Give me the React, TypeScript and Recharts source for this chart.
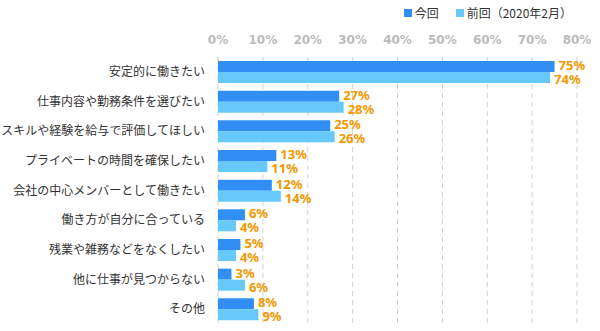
import { BarChart, Bar, XAxis, YAxis, CartesianGrid, LabelList, Legend } from "recharts"

const categories = [
  "安定的に働きたい",
  "仕事内容や勤務条件を選びたい",
  "スキルや経験を給与で評価してほしい",
  "プライベートの時間を確保したい",
  "会社の中心メンバーとして働きたい",
  "働き方が自分に合っている",
  "残業や雑務などをなくしたい",
  "他に仕事が見つからない",
  "その他",
]
const current = [75, 27, 25, 13, 12, 6, 5, 3, 8]
const previous = [74, 28, 26, 11, 14, 4, 4, 6, 9]
const xTicks = [0, 10, 20, 30, 40, 50, 60, 70, 80]

const data = categories.map((name, i) => ({
  name,
  current: current[i],
  previous: previous[i],
}))

const DARK = "#318ef5"
const LIGHT = "#66c8fb"
const ORANGE = "#f39800"

const labelStyle = {
  fill: ORANGE,
  fontSize: 13,
  fontWeight: "bold",
  fontFamily: "'Noto Sans', sans-serif",
}

function LegendBox() {
  const item = (color: string, text: string) => (
    <span style={{ display: "inline-flex", alignItems: "center", marginLeft: 17 }}>
      <span style={{ width: 8, height: 8, background: color, marginRight: 3 }} />
      <span>{text}</span>
    </span>
  )
  return (
    <div
      style={{
        fontFamily: "'Noto Sans CJK JP', sans-serif",
        fontSize: 12,
        color: "#333",
        display: "flex",
        justifyContent: "flex-end",
      }}
    >
      {item(DARK, "今回")}
      {item(LIGHT, "前回（2020年2月）")}
    </div>
  )
}

export default function App() {
  return (
    <div style={{ position: "absolute", left: 0, top: 0, background: "#fff" }}>
      <BarChart
        width={600}
        height={331}
        data={data}
        layout="vertical"
        margin={{ top: 32, right: 23, bottom: 7, left: 0 }}
        barGap={0}
      >
        <Legend
          verticalAlign="top"
          content={() => <LegendBox />}
          wrapperStyle={{ position: "absolute", top: 4, right: 28, width: "auto", height: 0 }}
        />
        <CartesianGrid horizontal={false} stroke="#d0d0d0" strokeDasharray="5 4" />
        <XAxis
          type="number"
          orientation="top"
          domain={[0, 80]}
          ticks={xTicks}
          height={25}
          tickFormatter={(v) => `${v}%`}
          axisLine={false}
          tickLine={false}
          tickMargin={7}
          tick={{ fill: "#bbbbbb", fontSize: 12, fontWeight: "bold", fontFamily: "'DejaVu Sans', sans-serif" }}
        />
        <YAxis
          type="category"
          dataKey="name"
          width={218}
          axisLine={false}
          tickLine={false}
          tickMargin={7}
          interval={0}
          tick={{ fill: "#333", fontSize: 12, fontFamily: "'Noto Sans CJK JP', sans-serif" }}
        />
        <Bar dataKey="current" fill={DARK} barSize={11} isAnimationActive={false}>
          <LabelList
            dataKey="current"
            position="right"
            offset={4}
            dy={-1}
            formatter={(v: any) => `${v}%`}
            style={labelStyle}
          />
        </Bar>
        <Bar dataKey="previous" fill={LIGHT} barSize={11} isAnimationActive={false}>
          <LabelList
            dataKey="previous"
            position="right"
            offset={4}
            dy={2}
            formatter={(v: any) => `${v}%`}
            style={labelStyle}
          />
        </Bar>
      </BarChart>
    </div>
  )
}
